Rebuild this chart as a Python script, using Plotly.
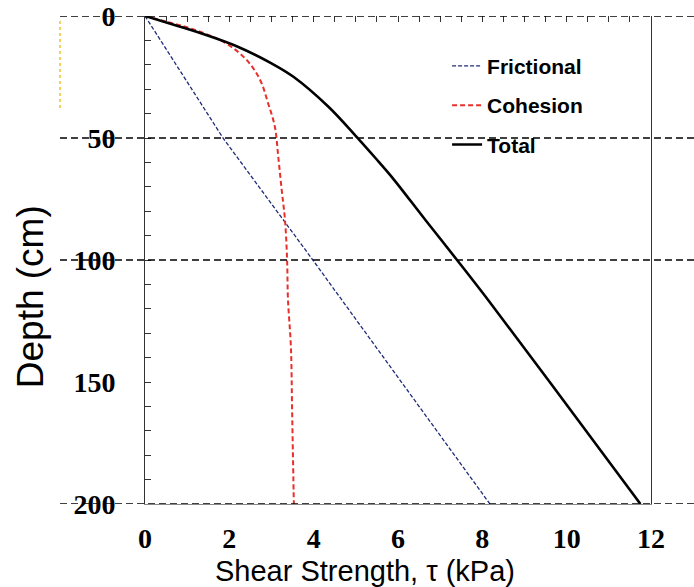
import plotly.graph_objects as go

# Frictional component
fric_depth = [0, 50, 100, 150, 200]
fric_tau = [0, 1.85, 3.98, 6.08, 8.18]

# Cohesion component
coh_depth = [0, 2.5, 5, 11, 18, 26.2, 35.8, 45.4, 57.7, 71, 83.6, 100, 116, 135.6, 163, 200]
coh_tau = [0, 0.55, 1.07, 1.9, 2.41, 2.73, 2.92, 3.08, 3.16, 3.24, 3.32, 3.37, 3.39, 3.46, 3.49, 3.53]

# Total
tot_depth = [0, 3.7, 7.8, 12.6, 19.4, 24.9, 37.2, 48.8, 58.3, 65.9, 83.6, 100, 117.8, 150.5, 200]
tot_tau = [0, 0.7, 1.45, 2.2, 3.0, 3.52, 4.35, 4.98, 5.47, 5.85, 6.65, 7.40, 8.2, 9.62, 11.75]

x_ticks = [0, 2, 4, 6, 8, 10, 12]
y_ticks = [0, 50, 100, 150, 200]
ref_depths = [0, 50, 100, 200]

x_title = "Shear Strength, τ (kPa)"
y_title = "Depth (cm)"

fig = go.Figure()
fig.add_trace(go.Scatter(x=fric_tau, y=fric_depth, mode="lines", name="Frictional",
                         legendgroup="a",
                         line=dict(color="#1f2d78", width=1.3, dash="4px,2px")))
fig.add_trace(go.Scatter(x=coh_tau, y=coh_depth, mode="lines", name="Cohesion",
                         legendgroup="b", line_shape="spline",
                         line=dict(color="#e8302b", width=2, dash="5px,3px")))
fig.add_trace(go.Scatter(x=tot_tau, y=tot_depth, mode="lines", name="Total",
                         legendgroup="c", line_shape="spline",
                         line=dict(color="black", width=2.6)))
# invisible trace for top ticks
fig.add_trace(go.Scatter(x=[0, 12], y=[0, 0], xaxis="x2", mode="lines",
                         line=dict(width=0), showlegend=False, hoverinfo="skip"))

for d in ref_depths:
    fig.add_shape(type="line", xref="paper", yref="y", x0=-0.168, x1=1.09, y0=d, y1=d,
                  line=dict(color="black", width=1.4, dash="7px,4px"), layer="above")

fig.add_shape(type="line", xref="paper", yref="y", x0=-0.168, x1=-0.168, y0=2, y1=38,
              line=dict(color="#f2c12e", width=1.5, dash="dot"))

serif = "Liberation Serif, Times New Roman, serif"
sans = "Liberation Sans, Arial, sans-serif"

fig.add_annotation(text=x_title, xref="paper", yref="paper", x=0.435, y=-0.137,
                   xanchor="center", yanchor="middle", showarrow=False,
                   font=dict(family=sans, size=29, color="black"))
fig.add_annotation(text=y_title, xref="paper", yref="paper", x=-0.227, y=0.424,
                   xanchor="center", yanchor="middle", showarrow=False, textangle=-90,
                   font=dict(family=sans, size=37, color="black"))

fig.update_layout(
    width=694, height=587,
    margin=dict(l=145, r=43, t=16, b=83),
    paper_bgcolor="white", plot_bgcolor="white",
    showlegend=True,
    legend=dict(x=0.597, y=0.939, xanchor="left", yanchor="top",
                font=dict(family=sans, size=21, color="black", weight="bold"),
                bgcolor="rgba(0,0,0,0)", itemwidth=30, tracegroupgap=9,
                traceorder="grouped"),
    xaxis=dict(range=[0, 12], tickvals=x_ticks, showgrid=False, zeroline=False,
               automargin=False,
               showline=True, linecolor="#888", linewidth=1, ticks="",
               ticklabelstandoff=9,
               tickfont=dict(family=serif, size=28, color="black", weight="bold")),
    xaxis2=dict(range=[0, 12], overlaying="x", side="top", dtick=0.5, tick0=0,
                automargin=False,
                ticks="inside", ticklen=6, tickcolor="#333", showticklabels=False,
                showgrid=False, zeroline=False, showline=False),
    yaxis=dict(range=[200, 0], tickvals=y_ticks, showgrid=False, zeroline=False,
               automargin=False,
               showline=True, linecolor="#333", linewidth=1, mirror=True,
               ticks="inside", ticklen=6, tickcolor="#333",
               minor=dict(dtick=10, ticks="inside", ticklen=6, tickcolor="#333"),
               ticklabelstandoff=23,
               tickfont=dict(family=serif, size=28, color="black", weight="bold")),
)

fig.write_html("out.html")
